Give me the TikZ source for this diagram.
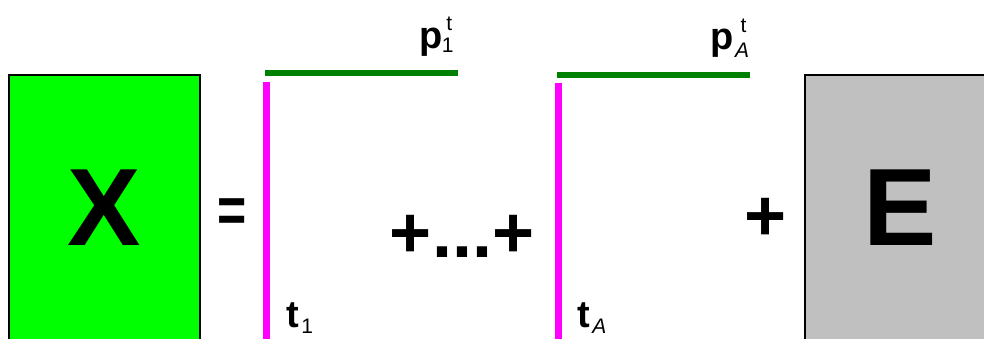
\documentclass[tikz,border=0pt]{standalone}
\usepackage{fontspec}
\setmainfont{Liberation Sans}
\definecolor{xgreen}{HTML}{00FF00}
\definecolor{egray}{HTML}{C0C0C0}
\definecolor{vmag}{HTML}{FF00FF}
\definecolor{vgreen}{HTML}{008000}
\begin{document}
\begin{tikzpicture}[x=1pt,y=-1pt,
  matbox/.style={draw=black, line width=2pt, inner sep=0pt,
    minimum width=191pt, minimum height=265pt,
    font=\fontsize{110}{110}\selectfont\bfseries},
  opsign/.style={inner sep=0pt, font=\fontsize{72}{72}\selectfont\bfseries},
  eqsign/.style={inner sep=0pt, yscale=1.3, font=\fontsize{50}{50}\selectfont\bfseries},
  tvec/.style={draw=vmag, line width=7pt},
  pvec/.style={draw=vgreen, line width=6.5pt},
  lab/.style={inner sep=0pt, anchor=base west, font=\fontsize{38}{38}\selectfont\bfseries}]
\useasboundingbox (0,0) rectangle (984,338);
\clip (0,0) rectangle (984,338);
% matrices
\node[matbox, fill=xgreen] (X) at (104.5,207.5) {X};
\node[matbox, fill=egray] (E) at (900,207.5) {E};
% operators
\node[inner sep=0pt] (eq) at (232,215.5) {\fontsize{50}{50}\selectfont\bfseries\scalebox{1}[1.3]{=}};
\node[opsign, anchor=base] (dots) at (462,257) {+...+};
\node[opsign, anchor=base] (plusE) at (765.5,240) {+};
% component 1
\coordinate (t1top) at (266.5,82);
\coordinate (t1bot) at (266.5,345);
\coordinate (p1l) at (265,73);
\coordinate (p1r) at (458,73);
\draw[tvec] (t1top) -- (t1bot);
\draw[pvec] (p1l) -- (p1r);
% component A
\coordinate (tAtop) at (558,83);
\coordinate (tAbot) at (558,345);
\coordinate (pAl) at (557,75);
\coordinate (pAr) at (750,75);
\draw[tvec] (tAtop) -- (tAbot);
\draw[pvec] (pAl) -- (pAr);
% labels
\node[lab] (p1lab) at (419.5,48) {p\kern-1pt{\fontsize{21}{21}\mdseries\selectfont\rlap{\raisebox{-4pt}{1}}\kern4.5pt\raisebox{18pt}{t}}};
\node[lab] (pAlab) at (710.6,49) {p{\fontsize{21}{21}\mdseries\selectfont\rlap{\kern1pt\raisebox{-8pt}{\itshape A}}\kern6.5pt\raisebox{17pt}{t}}};
\node[lab] (t1lab) at (286,327) {t{\fontsize{21}{21}\mdseries\selectfont\kern2.5pt\raisebox{-6pt}{1}}};
\node[lab] (tAlab) at (577,327) {t{\fontsize{21}{21}\mdseries\selectfont\kern2.5pt\raisebox{-6pt}{\itshape A}}};
\end{tikzpicture}
\end{document}
